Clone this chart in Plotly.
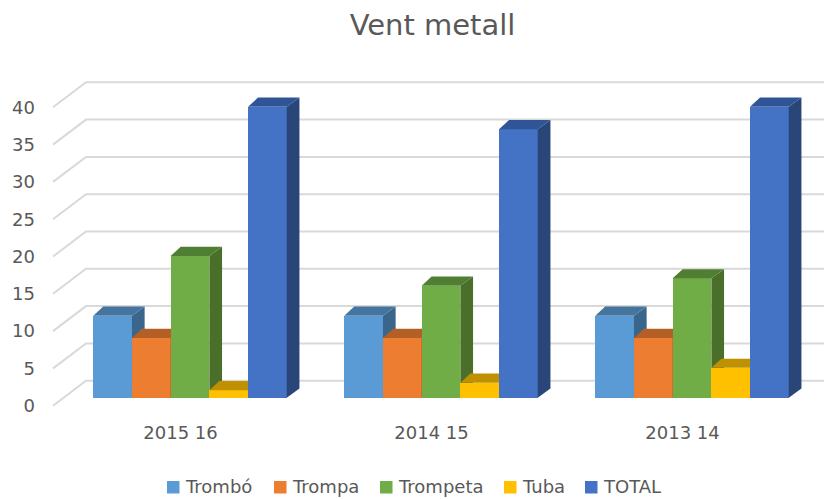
import plotly.graph_objects as go

categories = ["2015 16", "2014 15", "2013 14"]
series_names = ["Trombó", "Trompa", "Trompeta", "Tuba", "TOTAL"]
tromb = [11, 11, 11]
trompa = [8, 8, 8]
trompeta = [19, 15, 16]
tuba = [1, 2, 4]
total = [39, 36, 39]
y_ticks = [0, 5, 10, 15, 20, 25, 30, 35, 40]

series_values = [tromb, trompa, trompeta, tuba, total]
front = ["#5B9BD5", "#ED7D31", "#70AD47", "#FFC000", "#4472C4"]
top = ["#45759F", "#B45F25", "#507E32", "#BF9000", "#2F5597"]
side = ["#3A668C", "#9E5220", "#4A6F2B", "#A67C00", "#2A4679"]

OFF = 8                                # page body margin in px
W, H = 832 - OFF, 499 - OFF
ML, MR, MT, MB = 28, 0, 52, 79         # margins in px (figure frame)
PX_X = 251.0                           # px per category
PX_Y = 7.46                            # px per value unit
X0_PX, Y0_PX = 190.0 - OFF, 397.7 - OFF  # first category centre / bar floor


def xu(px):
    return px / PX_X


def yu(px):
    return px / PX_Y


x_range = [(ML - X0_PX) / PX_X, (W - MR - X0_PX) / PX_X]
y_range = [-(H - MB - Y0_PX) / PX_Y, (Y0_PX - MT) / PX_Y]

bar_w = xu(38.7)
group_start = -2.5 * bar_w
dx_r, dx_l, dy = xu(12.7), xu(10.0), yu(9.2)

# floor / walls
wall_left, wall_back = xu(53 - 190), xu(86 - 190)
wall_low, wall_high = yu(-8.0), yu(17.0)
label_shift = xu(-9.5)

fig = go.Figure()

# gridlines on the wall (lowest overlay)
gx, gy = [], []
for v in y_ticks:
    gx += [wall_left, wall_back, x_range[1], None]
    gy += [v + wall_low, v + wall_high, v + wall_high, None]
fig.add_trace(go.Scatter(x=gx, y=gy, mode="lines", line=dict(color="#D9D9D9", width=2),
                         hoverinfo="skip", showlegend=False, yaxis="y"))

layout_axes = {}
for s, (name, vals) in enumerate(zip(series_names, series_values)):
    ax_name = f"y{s + 2}"
    layout_axes[f"yaxis{s + 2}"] = dict(overlaying="y", range=y_range, visible=False, fixedrange=True)
    offset = group_start + s * bar_w
    fig.add_trace(go.Bar(x=list(range(len(categories))), y=vals, name=name, width=bar_w, offset=offset,
                         marker=dict(color=front[s], line=dict(width=0)), yaxis=ax_name, showlegend=False))
    for c, v in enumerate(vals):
        x0 = c + offset
        x1 = x0 + bar_w
        # side face
        fig.add_trace(go.Scatter(x=[x1, x1 + dx_r, x1 + dx_r, x1, x1], y=[0, dy, v + dy, v, 0], mode="lines",
                                 fill="toself", fillcolor=side[s], line=dict(width=0, color=side[s]),
                                 hoverinfo="skip", showlegend=False, yaxis=ax_name))
        # top face
        fig.add_trace(go.Scatter(x=[x0, x1, x1 + dx_r, x0 + dx_l, x0], y=[v, v, v + dy, v + dy, v], mode="lines",
                                 fill="toself", fillcolor=top[s], line=dict(width=0, color=top[s]),
                                 hoverinfo="skip", showlegend=False, yaxis=ax_name))

# legend
legend_swatch_px = [167, 274, 380, 504, 585]
shapes, annotations = [], []
PW, PH = W - ML - MR, H - MT - MB
for px, name, col in zip(legend_swatch_px, series_names, front):
    px -= OFF
    shapes.append(dict(type="rect", xref="paper", yref="paper",
                       x0=(px - ML) / PW, x1=(px + 12.5 - ML) / PW,
                       y0=(H - MB - (493.5 - OFF)) / PH, y1=(H - MB - (481 - OFF)) / PH,
                       fillcolor=col, line=dict(width=0)))
    annotations.append(dict(text=name, xref="paper", yref="paper", showarrow=False,
                            x=(px + 18 - ML) / PW, xanchor="left", xshift=-2,
                            y=(H - MB - (486 - OFF)) / PH, yanchor="middle",
                            font=dict(family="DejaVu Sans", size=18, color="#595959")))

fig.update_layout(
    width=W, height=H, autosize=False,
    margin=dict(l=ML, r=MR, t=MT, b=MB, pad=0),
    paper_bgcolor="white", plot_bgcolor="white",
    showlegend=False, bargap=0,
    title=dict(text="Vent metall", x=(432.5 - OFF) / W, xanchor="center", y=1 - (25 - OFF) / H, yanchor="middle",
               font=dict(family="DejaVu Sans", size=29, color="#595959")),
    xaxis=dict(range=x_range, tickmode="array", tickvals=[c + label_shift for c in range(len(categories))],
               ticktext=categories,
               showgrid=False, zeroline=False, showline=False, ticks="", fixedrange=True,
               tickfont=dict(family="DejaVu Sans", size=18, color="#595959")),
    yaxis=dict(range=y_range, tickmode="array", tickvals=[v + wall_low for v in y_ticks],
               ticktext=[str(v) for v in y_ticks], showgrid=False, zeroline=False, showline=False,
               ticks="", fixedrange=True,
               tickfont=dict(family="DejaVu Sans", size=18, color="#595959")),
    shapes=shapes, annotations=annotations,
    **layout_axes,
)
fig.write_html("out.html")
